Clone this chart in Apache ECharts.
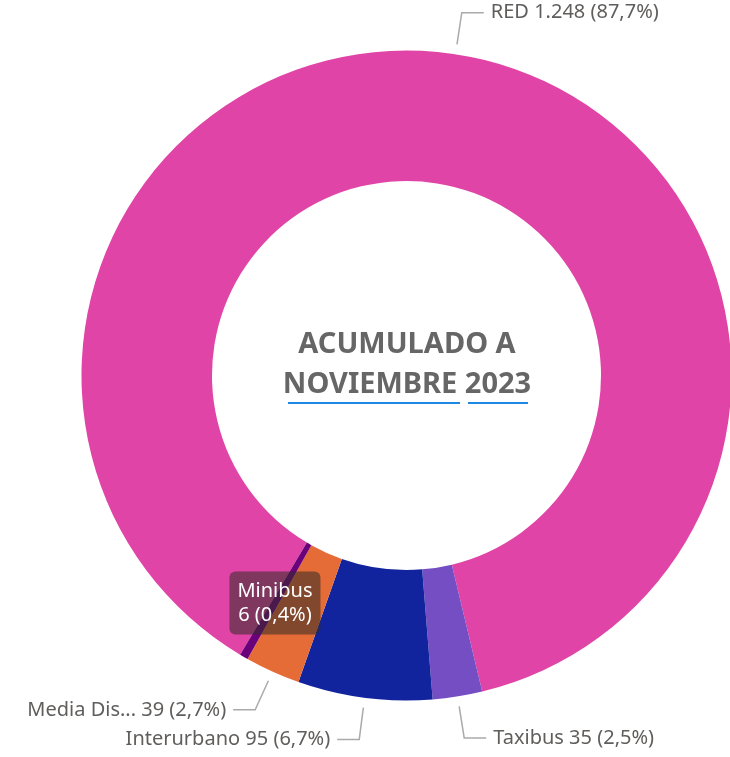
<!DOCTYPE html>
<html>
<head>
<meta charset="utf-8">
<script src="https://cdn.jsdelivr.net/npm/echarts@6/dist/echarts.min.js"></script>
<style>
  html, body { margin: 0; padding: 0; background: #fff; }
  #main { width: 730px; height: 757px; }
</style>
</head>
<body>
<div id="main"></div>
<script>
// datos del gráfico
var categories = ['RED', 'Taxibus', 'Interurbano', 'Media Distancia', 'Minibus'];
var values = [1248, 35, 95, 39, 6];
var colors = ['#E044A7', '#744EC2', '#12239E', '#E66C37', '#6B007B'];
var centerLines = ['ACUMULADO A', 'NOVIEMBRE 2023'];

var total = values.reduce(function (a, b) { return a + b; }, 0);
var fontFamily = '"Noto Sans", "Open Sans", sans-serif';

function fmtNum(v) {
  return String(v).replace(/\B(?=(\d{3})+(?!\d))/g, '.');
}
function fmtPct(v) {
  return (v / total * 100).toFixed(1).replace('.', ',');
}
function shortName(n) {
  return n.length > 12 ? n.slice(0, 9) + '...' : n;
}

var pieData = categories.map(function (c, i) {
  return { name: c, value: values[i], itemStyle: { color: colors[i] } };
});

var myChart = echarts.init(document.getElementById('main'));

myChart.setOption({
  animation: false,
  graphic: [
    {
      type: 'text',
      position: [407, 325],
      style: {
        text: centerLines.join('\n'),
        align: 'center',
        fill: '#666666',
        font: 'bold 29px ' + fontFamily,
        lineHeight: 40
      }
    },
    { type: 'line', shape: { x1: 288, y1: 403, x2: 460, y2: 403 }, style: { stroke: '#1E88E5', lineWidth: 2 } },
    { type: 'line', shape: { x1: 468, y1: 403, x2: 528, y2: 403 }, style: { stroke: '#1E88E5', lineWidth: 2 } }
  ],
  series: [
    {
      // anillo visible
      type: 'pie',
      center: [406.5, 375.5],
      radius: [194.5, 325],
      startAngle: -120.8,
      silent: true,
      data: pieData.map(function (d) {
        var o = { name: d.name, value: d.value, itemStyle: d.itemStyle, label: { show: false } };
        if (d.name === 'Minibus') {
          o.label = {
            show: true,
            position: 'inside',
            formatter: function (p) { return p.name + '\n' + fmtNum(p.value) + ' (' + fmtPct(p.value) + '%)'; },
            color: '#ffffff',
            fontFamily: fontFamily,
            fontSize: 20,
            lineHeight: 24,
            align: 'left',
            backgroundColor: 'rgba(52,44,40,0.56)',
            borderRadius: 6,
            padding: [7, 8, 8, 8]
          };
        }
        return o;
      }),
      labelLine: { show: false }
    },
    {
      // etiquetas externas
      type: 'pie',
      center: [406.5, 375.5],
      radius: [194.5, 335],
      startAngle: -120.8,
      silent: true,
      avoidLabelOverlap: false,
      itemStyle: { color: 'rgba(0,0,0,0)' },
      data: pieData.map(function (d) {
        return {
          name: d.name,
          value: d.value,
          itemStyle: { color: 'rgba(0,0,0,0)' },
          label: { show: d.name !== 'Minibus' },
          labelLine: { show: d.name !== 'Minibus' }
        };
      }),
      label: {
        formatter: function (p) {
          return shortName(p.name) + ' ' + fmtNum(p.value) + ' (' + fmtPct(p.value) + '%)';
        },
        color: '#605E5C',
        fontFamily: fontFamily,
        fontSize: 20,
        padding: [6, 0, 0, 0],
        distanceToLabelLine: 7
      },
      labelLine: {
        length: 32,
        length2: 22,
        lineStyle: { color: '#AAAAAA', width: 1.5 }
      }
    }
  ]
});
</script>
</body>
</html>
